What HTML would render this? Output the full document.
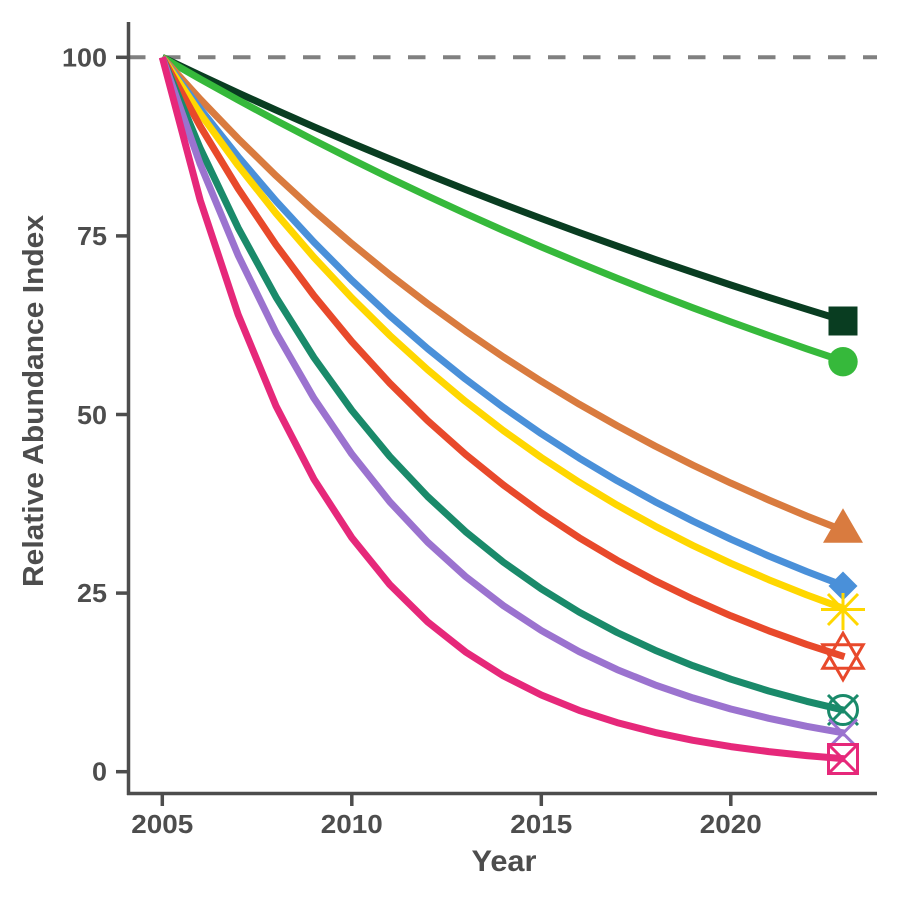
<!DOCTYPE html>
<html><head><meta charset="utf-8"><style>
html,body{margin:0;padding:0;background:#fff;}
svg{display:block;}
text{font-family:"Liberation Sans",sans-serif;fill:#4d4d4d;font-weight:bold;}
</style></head><body>
<svg id="s" width="900" height="900" viewBox="0 0 900 900" xmlns="http://www.w3.org/2000/svg">
<rect width="900" height="900" fill="#fff"/>
<line x1="128" y1="57.3" x2="877" y2="57.3" stroke="#808080" stroke-width="4" stroke-dasharray="17.5 17.5"/>
<g id="lines" fill="none" stroke-width="7" stroke-linejoin="round" stroke-linecap="butt"></g>
<!-- markers -->
<rect x="828.5" y="306.5" width="29" height="29" fill="#093d21"/>
<circle cx="843" cy="361.7" r="14.7" fill="#36b93b"/>
<polygon points="843,508.3 863,542.7 823,542.7" fill="#d97b3f"/>
<polygon points="843,571.5 857.5,586 843,600.5 828.5,586" fill="#4a90d9"/>
<g stroke="#ffd700" stroke-width="3">
<line x1="821" y1="609.5" x2="865" y2="609.5"/>
<line x1="843" y1="593" x2="843" y2="630"/>
<line x1="828" y1="594" x2="858" y2="625"/>
<line x1="828" y1="625" x2="858" y2="594"/>
</g>
<g stroke="#e8492b" stroke-width="3" fill="none">
<polygon points="843,633.2 863.2,668.2 822.8,668.2"/>
<polygon points="843,679.8 863.2,644.8 822.8,644.8"/>
</g>
<g stroke="#1a8a6a" stroke-width="3" fill="none">
<circle cx="843" cy="710" r="14.5"/>
<line x1="828" y1="695" x2="858" y2="725"/>
<line x1="828" y1="725" x2="858" y2="695"/>
</g>
<g stroke="#9b73cf" stroke-width="3">
<line x1="829" y1="719.3" x2="857" y2="747.3"/>
<line x1="829" y1="747.3" x2="857" y2="719.3"/>
</g>
<g stroke="#e6287a" stroke-width="3" fill="none">
<rect x="828.5" y="744.5" width="29" height="29"/>
<line x1="828.5" y1="744.5" x2="857.5" y2="773.5"/>
<line x1="828.5" y1="773.5" x2="857.5" y2="744.5"/>
</g>
<!-- axes -->
<g stroke="#4d4d4d" stroke-width="3.5" fill="none">
<line x1="128.5" y1="22" x2="128.5" y2="795"/>
<line x1="127" y1="793.5" x2="877" y2="793.5"/>
<line x1="116" y1="57.3" x2="128" y2="57.3"/>
<line x1="116" y1="235.9" x2="128" y2="235.9"/>
<line x1="116" y1="414.5" x2="128" y2="414.5"/>
<line x1="116" y1="593.1" x2="128" y2="593.1"/>
<line x1="116" y1="771.7" x2="128" y2="771.7"/>
<line x1="162.3" y1="793" x2="162.3" y2="806"/>
<line x1="351.8" y1="793" x2="351.8" y2="806"/>
<line x1="541.3" y1="793" x2="541.3" y2="806"/>
<line x1="730.8" y1="793" x2="730.8" y2="806"/>
</g>
<g font-size="25.5" text-anchor="end">
<text x="107" y="66.5" textLength="45" lengthAdjust="spacingAndGlyphs">100</text>
<text x="107" y="245" textLength="30" lengthAdjust="spacingAndGlyphs">75</text>
<text x="107" y="424" textLength="30" lengthAdjust="spacingAndGlyphs">50</text>
<text x="107" y="602" textLength="30" lengthAdjust="spacingAndGlyphs">25</text>
<text x="107" y="780.5" textLength="15" lengthAdjust="spacingAndGlyphs">0</text>
</g>
<g font-size="25.5" text-anchor="middle">
<text x="162.3" y="833" textLength="62" lengthAdjust="spacingAndGlyphs">2005</text>
<text x="351.8" y="833" textLength="62" lengthAdjust="spacingAndGlyphs">2010</text>
<text x="541.3" y="833" textLength="62" lengthAdjust="spacingAndGlyphs">2015</text>
<text x="730.8" y="833" textLength="62" lengthAdjust="spacingAndGlyphs">2020</text>
</g>
<text x="504" y="871" font-size="30" text-anchor="middle" textLength="65" lengthAdjust="spacingAndGlyphs">Year</text>
<text transform="translate(43,401) rotate(-90)" x="0" y="0" font-size="29" text-anchor="middle" textLength="372" lengthAdjust="spacingAndGlyphs">Relative Abundance Index</text>
</svg>
<script>
(function(){
var series=[
 ["#e6287a",1.8],["#9b73cf",5.4],["#1a8a6a",8.6],["#e8492b",16.1],
 ["#ffd700",22.8],["#4a90d9",26.0],["#d97b3f",33.7],["#36b93b",57.4],["#093d21",63.1]
];
var g=document.getElementById("lines");
var ns="http://www.w3.org/2000/svg";
for(var i=series.length-1;i>=0;i--){
 var c=series[i][0],e=series[i][1]/100,d="";
 for(var t=0;t<=18;t++){
  var v=100*Math.pow(e,t/18);
  var x=162.3+37.9*t, y=771.7-7.144*v;
  d+=(t?"L":"M")+x.toFixed(1)+","+y.toFixed(1);
 }
 var p=document.createElementNS(ns,"path");
 p.setAttribute("d",d);p.setAttribute("stroke",c);
 g.appendChild(p);
}
})();
</script>
</body></html>
